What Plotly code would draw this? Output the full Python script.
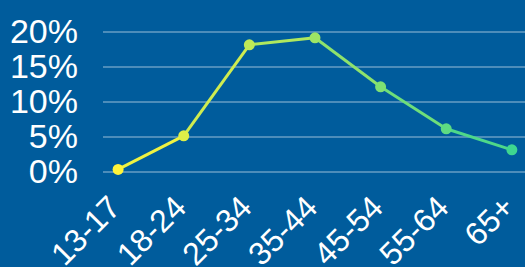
import plotly.graph_objects as go

categories = ["13-17", "18-24", "25-34", "35-44", "45-54", "55-64", "65+"]
share_pct = [0.3, 5.1, 18.1, 19.1, 12.1, 6.1, 3.1]
y_ticks = [0, 5, 10, 15, 20]
y_tick_labels = ["0%", "5%", "10%", "15%", "20%"]

BG = "#005c9c"
C0 = (255, 244, 58)   # yellow start
C1 = (62, 214, 144)   # green end


def mix(t):
    r, g, b = (round(a + (c - a) * t) for a, c in zip(C0, C1))
    return f"rgb({r},{g},{b})"


n = len(categories)
fig = go.Figure()
for i in range(n - 1):
    fig.add_trace(go.Scatter(
        x=[i, i + 1], y=share_pct[i:i + 2], mode="lines",
        line=dict(color=mix((i + 0.5) / (n - 1)), width=3),
        hoverinfo="skip", showlegend=False, cliponaxis=False))
fig.add_trace(go.Scatter(
    x=list(range(n)), y=share_pct, mode="markers",
    marker=dict(size=11, color=[mix(i / (n - 1)) for i in range(n)]),
    showlegend=False, cliponaxis=False,
    customdata=categories, hovertemplate="%{customdata}: %{y}%<extra></extra>"))

font = dict(family="Liberation Sans, Arial, sans-serif", color="white")
fig.update_layout(
    width=525, height=267,
    margin=dict(l=103, r=0, t=27.5, b=91.5),
    paper_bgcolor=BG, plot_bgcolor=BG,
    showlegend=False,
)
fig.update_xaxes(
    range=[-0.23, 6.2], tickmode="array", tickvals=list(range(n)), ticktext=categories,
    tickangle=-45, tickfont=dict(size=32, **font), showgrid=False, zeroline=False,
    showline=False, ticks="", ticklabelstandoff=6, ticklabelshift=-7, automargin=False,
    ticklabeloverflow="allow",
)
fig.update_yaxes(
    range=[-0.5, 20.5], tickmode="array", tickvals=y_ticks, ticktext=y_tick_labels,
    tickfont=dict(size=34, **font), showgrid=True, gridcolor="rgba(255,255,255,0.3)",
    gridwidth=2, zeroline=False, showline=False, ticks="", ticklabelstandoff=24,
    automargin=False,
)
fig.write_html(
    "out.html",
    config={"displayModeBar": False},
    post_script="document.body.style.margin='0';document.body.style.overflow='hidden';",
)
